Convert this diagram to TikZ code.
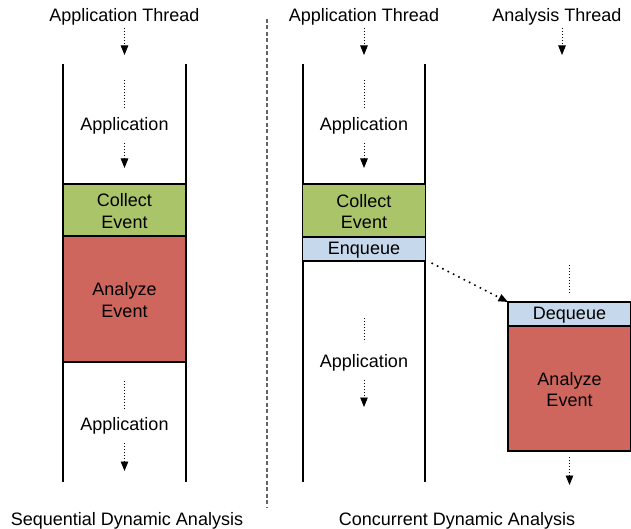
\documentclass[tikz,border=0pt]{standalone}
\usepackage{fontspec}
\setmainfont{Liberation Sans}
\usetikzlibrary{arrows.meta}

\definecolor{collectgreen}{RGB}{170,196,106}
\definecolor{analyzered}{RGB}{206,102,94}
\definecolor{queueblue}{RGB}{198,216,236}
\definecolor{dividergray}{RGB}{100,100,100}

\begin{document}
\begin{tikzpicture}[x=1pt,y=-1pt,
    font=\fontsize{18}{21.5}\selectfont,
    lbl/.style={anchor=base,inner sep=0pt},
    phase/.style={draw=black,line width=1.6pt,minimum width=123pt,inner sep=0pt,outer sep=0pt,align=center},
    oneline/.style={phase,text height=15.5pt},
    twoline/.style={phase,text height=37pt},
    colline/.style={line width=1.6pt},
    flow/.style={line width=0.9pt,dash pattern=on 0.9pt off 2.1pt},
    flowarrow/.style={flow,-{Triangle[length=9.5pt,width=7.5pt]}},
    handoff/.style={line width=1.6pt,dash pattern=on 1.6pt off 4.4pt,-{Triangle[length=9.5pt,width=7.5pt]}},
    divider/.style={dividergray,line width=1.3pt,dash pattern=on 4pt off 2.5pt}]
    \useasboundingbox (0,0) rectangle (631,529);
    \pgfmathsetmacro{\coltop}{64}
    \pgfmathsetmacro{\colbot}{482}
    % sequential side
    \draw[colline] (63,\coltop) -- (63,\colbot);
    \draw[colline] (186,\coltop) -- (186,\colbot);
    \node[lbl] (titleseq) at (124.5,22) {Application Thread};
    \coordinate (seqa) at (124.5,28);
    \coordinate (seqb) at (124.5,55);
    \draw[flowarrow] (seqa) -- (seqb);
    \coordinate (seqc) at (124.5,80);
    \coordinate (seqd) at (124.5,108);
    \draw[flow] (seqc) -- (seqd);
    \node[lbl] (appseqtop) at (124.5,131) {Application};
    \coordinate (seqe) at (124.5,143);
    \coordinate (seqf) at (124.5,168);
    \draw[flowarrow] (seqe) -- (seqf);
    \node[twoline,fill=collectgreen,minimum height=52pt] (collectseq) at (124.5,210) {Collect\\Event};
    \node[twoline,fill=analyzered,minimum height=126pt] (analyzeseq) at (124.5,299) {Analyze\\Event};
    \coordinate (seqg) at (124.5,381);
    \coordinate (seqh) at (124.5,409);
    \draw[flow] (seqg) -- (seqh);
    \node[lbl] (appseqbot) at (124.5,430) {Application};
    \coordinate (seqi) at (124.5,443);
    \coordinate (seqj) at (124.5,471);
    \draw[flowarrow] (seqi) -- (seqj);
    \node[lbl] (capseq) at (127,525) {Sequential Dynamic Analysis};
    % divider
    \coordinate (divtop) at (267,19);
    \coordinate (divbot) at (267,508);
    \draw[divider] (divtop) -- (divbot);
    % concurrent side, application thread
    \draw[colline] (303,\coltop) -- (303,\colbot);
    \draw[colline] (425,\coltop) -- (425,\colbot);
    \node[lbl] (titleapp) at (364,22) {Application Thread};
    \coordinate (cona) at (364,28);
    \coordinate (conb) at (364,55);
    \draw[flowarrow] (cona) -- (conb);
    \coordinate (conc) at (364,80);
    \coordinate (cond) at (364,108);
    \draw[flow] (conc) -- (cond);
    \node[lbl] (appcontop) at (364,131) {Application};
    \coordinate (cone) at (364,143);
    \coordinate (conf) at (364,168);
    \draw[flowarrow] (cone) -- (conf);
    \node[twoline,fill=collectgreen,minimum height=53pt] (collectcon) at (364,210.5) {Collect\\Event};
    \node[oneline,fill=queueblue,minimum height=24pt] (enqueue) at (364,249) {Enqueue};
    \coordinate (cong) at (364,318);
    \coordinate (conh) at (364,342);
    \draw[flow] (cong) -- (conh);
    \node[lbl] (appconbot) at (364,367) {Application};
    \coordinate (coni) at (364,380);
    \coordinate (conj) at (364,407);
    \draw[flowarrow] (coni) -- (conj);
    \node[lbl] (capcon) at (457,525) {Concurrent Dynamic Analysis};
    % concurrent side, analysis thread
    \node[lbl] (titleana) at (557,22) {Analysis Thread};
    \coordinate (anaa) at (562,28);
    \coordinate (anab) at (562,55);
    \draw[flowarrow] (anaa) -- (anab);
    \coordinate (anac) at (569.5,265);
    \coordinate (anad) at (569.5,293);
    \draw[flow] (anac) -- (anad);
    \node[oneline,fill=queueblue,minimum height=24pt] (dequeue) at (569.5,314) {Dequeue};
    \node[twoline,fill=analyzered,minimum height=125pt] (analyzecon) at (569.5,388.5) {Analyze\\Event};
    \coordinate (anae) at (569.5,457);
    \coordinate (anaf) at (569.5,485);
    \draw[flowarrow] (anae) -- (anaf);
    \draw[handoff] ([xshift=6pt,yshift=-2pt]enqueue.south east) -- (dequeue.north west);
\end{tikzpicture}
\end{document}
